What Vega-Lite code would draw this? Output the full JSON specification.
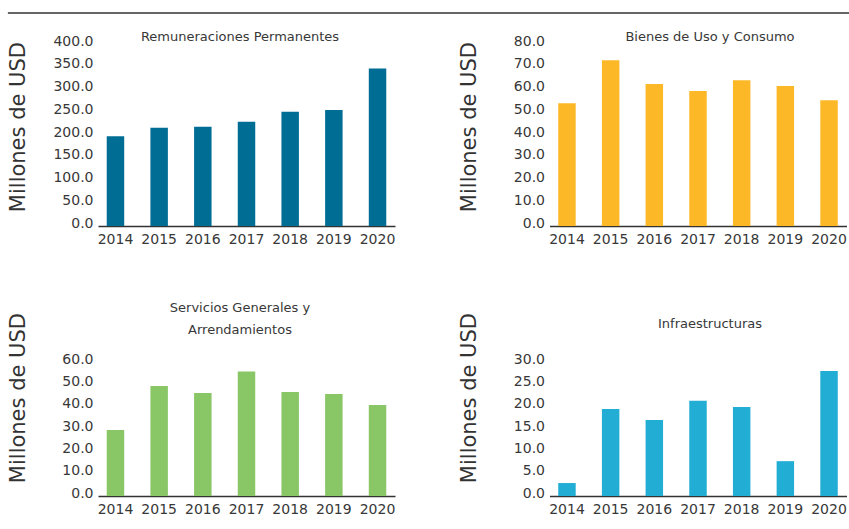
{
  "$schema": "https://vega.github.io/schema/vega-lite/v6.json",
  "padding": {"left": 6, "top": 12, "right": 0, "bottom": 0},
  "background": "white",
  "datasets": {
    "gastos": [
      {"categoria": "Remuneraciones Permanentes", "anio": "2014", "valor": 197},
      {"categoria": "Remuneraciones Permanentes", "anio": "2015", "valor": 216},
      {"categoria": "Remuneraciones Permanentes", "anio": "2016", "valor": 218},
      {"categoria": "Remuneraciones Permanentes", "anio": "2017", "valor": 229},
      {"categoria": "Remuneraciones Permanentes", "anio": "2018", "valor": 251},
      {"categoria": "Remuneraciones Permanentes", "anio": "2019", "valor": 255},
      {"categoria": "Remuneraciones Permanentes", "anio": "2020", "valor": 346},
      {"categoria": "Bienes de Uso y Consumo", "anio": "2014", "valor": 54.0},
      {"categoria": "Bienes de Uso y Consumo", "anio": "2015", "valor": 72.9},
      {"categoria": "Bienes de Uso y Consumo", "anio": "2016", "valor": 62.4},
      {"categoria": "Bienes de Uso y Consumo", "anio": "2017", "valor": 59.3},
      {"categoria": "Bienes de Uso y Consumo", "anio": "2018", "valor": 64.1},
      {"categoria": "Bienes de Uso y Consumo", "anio": "2019", "valor": 61.5},
      {"categoria": "Bienes de Uso y Consumo", "anio": "2020", "valor": 55.3},
      {"categoria": "Servicios Generales y Arrendamientos", "anio": "2014", "valor": 29.6},
      {"categoria": "Servicios Generales y Arrendamientos", "anio": "2015", "valor": 49.2},
      {"categoria": "Servicios Generales y Arrendamientos", "anio": "2016", "valor": 46.1},
      {"categoria": "Servicios Generales y Arrendamientos", "anio": "2017", "valor": 55.8},
      {"categoria": "Servicios Generales y Arrendamientos", "anio": "2018", "valor": 46.6},
      {"categoria": "Servicios Generales y Arrendamientos", "anio": "2019", "valor": 45.7},
      {"categoria": "Servicios Generales y Arrendamientos", "anio": "2020", "valor": 40.7},
      {"categoria": "Infraestructuras", "anio": "2014", "valor": 2.9},
      {"categoria": "Infraestructuras", "anio": "2015", "valor": 19.5},
      {"categoria": "Infraestructuras", "anio": "2016", "valor": 17.0},
      {"categoria": "Infraestructuras", "anio": "2017", "valor": 21.3},
      {"categoria": "Infraestructuras", "anio": "2018", "valor": 19.9},
      {"categoria": "Infraestructuras", "anio": "2019", "valor": 7.8},
      {"categoria": "Infraestructuras", "anio": "2020", "valor": 28.0}
    ]
  },
  "config": {
    "view": {"stroke": null},
    "font": "DejaVu Sans",
    "title": {"fontSize": 13, "fontWeight": "normal", "color": "#383838", "frame": "group", "anchor": "middle"},
    "axis": {"labelFont": "DejaVu Sans", "labelFontSize": 14, "labelColor": "#383838", "ticks": false, "grid": false},
    "axisX": {"domain": true, "domainColor": "#333333", "domainWidth": 1.5, "labelAngle": 0, "labelPadding": 6, "zindex": 1, "title": null},
    "axisY": {"domain": false, "labelPadding": 5, "labelOffset": -3, "titleFont": "DejaVu Sans", "titleFontSize": 21, "titleFontWeight": "normal", "titleColor": "#333333", "titleX": -80, "titleBaseline": "middle", "titleAngle": 270, "titleAlign": "center"}
  },
  "columns": 1,
  "spacing": 16,
  "concat": [
    {
      "data": {"values": [{}]},
      "width": 751,
      "height": 1,
      "mark": {"type": "rule", "color": "#333333", "strokeWidth": 1.3},
      "encoding": {
        "x": {"datum": -0.12, "type": "quantitative", "scale": {"domain": [0, 1], "nice": false, "zero": false}, "axis": null},
        "x2": {"datum": 1},
        "y": {"datum": 1, "type": "quantitative", "scale": {"domain": [0, 1]}, "axis": null}
      }
    },
    {
      "spacing": 55,
      "vconcat": [
        {
          "spacing": 62.5,
          "hconcat": [
            {
              "data": {"name": "gastos"},
              "transform": [{"filter": "datum.categoria === 'Remuneraciones Permanentes'"}],
              "width": 297,
              "height": 182,
              "title": {"text": "Remuneraciones Permanentes", "dx": -6.5, "offset": -9.6},
              "mark": {"type": "bar", "color": "#006E94"},
              "encoding": {
                "x": {"field": "anio", "type": "ordinal", "scale": {"paddingInner": 0.6, "paddingOuter": 0.2}},
                "y": {"field": "valor", "type": "quantitative", "scale": {"domain": [0, 400], "nice": false},
                      "axis": {"values": [0, 50, 100, 150, 200, 250, 300, 350, 400], "format": ".1f", "title": "Millones de USD", "titleY": 82.6}}
              }
            },
            {
              "data": {"name": "gastos"},
              "transform": [{"filter": "datum.categoria === 'Bienes de Uso y Consumo'"}],
              "width": 297,
              "height": 182,
              "title": {"text": "Bienes de Uso y Consumo", "dx": 12, "offset": -9.6},
              "mark": {"type": "bar", "color": "#FDB827"},
              "encoding": {
                "x": {"field": "anio", "type": "ordinal", "scale": {"paddingInner": 0.6, "paddingOuter": 0.2}},
                "y": {"field": "valor", "type": "quantitative", "scale": {"domain": [0, 80], "nice": false},
                      "axis": {"values": [0, 10, 20, 30, 40, 50, 60, 70, 80], "format": ".1f", "title": "Millones de USD", "titleY": 82.6}}
              }
            }
          ]
        },
        {
          "spacing": 62.5,
          "hconcat": [
            {
              "data": {"name": "gastos"},
              "transform": [{"filter": "datum.categoria === 'Servicios Generales y Arrendamientos'"}],
              "width": 297,
              "height": 134,
              "title": {"text": ["Servicios Generales y", "Arrendamientos"], "lineHeight": 22, "dx": -6.5, "offset": -24.4},
              "mark": {"type": "bar", "color": "#88C666"},
              "encoding": {
                "x": {"field": "anio", "type": "ordinal", "scale": {"paddingInner": 0.6, "paddingOuter": 0.2}},
                "y": {"field": "valor", "type": "quantitative", "scale": {"domain": [0, 60], "nice": false},
                      "axis": {"values": [0, 10, 20, 30, 40, 50, 60], "format": ".1f", "title": "Millones de USD", "titleY": 35.6}}
              }
            },
            {
              "data": {"name": "gastos"},
              "transform": [{"filter": "datum.categoria === 'Infraestructuras'"}],
              "width": 297,
              "height": 134,
              "title": {"text": "Infraestructuras", "dx": 12, "offset": -18.3},
              "mark": {"type": "bar", "color": "#22AED4"},
              "encoding": {
                "x": {"field": "anio", "type": "ordinal", "scale": {"paddingInner": 0.6, "paddingOuter": 0.2}},
                "y": {"field": "valor", "type": "quantitative", "scale": {"domain": [0, 30], "nice": false},
                      "axis": {"values": [0, 5, 10, 15, 20, 25, 30], "format": ".1f", "title": "Millones de USD", "titleY": 35.6}}
              }
            }
          ]
        }
      ]
    }
  ]
}
